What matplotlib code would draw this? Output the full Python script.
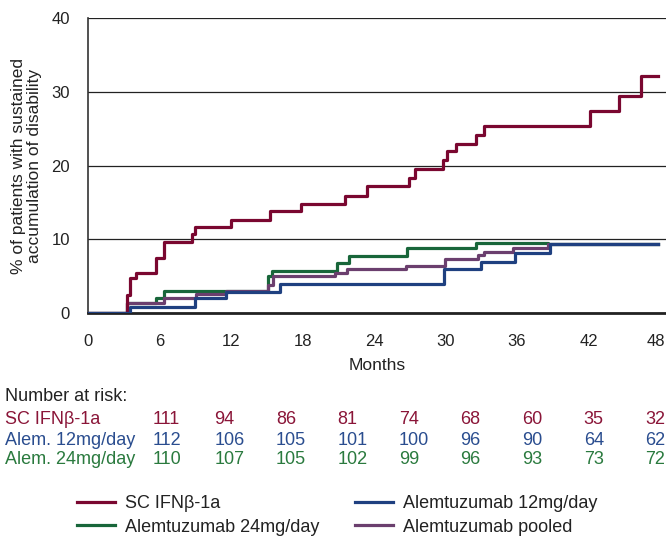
import numpy as np
import matplotlib.pyplot as plt
import matplotlib.transforms as mtransforms

plt.rcParams['font.family'] = ['Liberation Sans', 'DejaVu Sans']

# Kaplan-Meier style curves (months, % with sustained accumulation of disability)
ifn_t = [0, 3.25, 3.55, 4.0, 5.7, 6.35, 8.75, 9.0, 12.0, 15.3, 17.9, 21.6, 23.4,
         26.95, 27.4, 29.8, 30.15, 30.9, 32.55, 33.2, 42.1, 44.6, 46.4, 47.8]
ifn_y = [0, 2.5, 4.8, 5.5, 7.5, 9.6, 10.8, 11.7, 12.6, 13.8, 14.8, 15.9, 17.2,
         18.3, 19.5, 20.8, 22.0, 23.0, 24.2, 25.4, 27.4, 29.4, 32.1, 32.1]

alem24_t = [0, 3.3, 5.7, 6.35, 15.1, 15.4, 20.9, 21.9, 26.8, 32.55, 38.6, 47.8]
alem24_y = [0, 1.35, 2.1, 3.0, 5.0, 5.7, 6.8, 7.7, 8.8, 9.5, 9.4, 9.4]

pooled_t = [0, 3.3, 6.4, 9.1, 11.6, 15.1, 15.5, 20.7, 21.7, 26.7, 29.95, 32.7,
            33.2, 35.7, 38.6, 47.8]
pooled_y = [0, 1.35, 2.1, 2.6, 3.0, 3.8, 5.0, 5.5, 6.0, 6.4, 7.3, 7.9,
            8.35, 8.9, 9.4, 9.4]

alem12_t = [0, 3.5, 9.0, 11.6, 16.1, 29.9, 33.0, 35.8, 38.75, 47.8]
alem12_y = [0, 0.9, 2.1, 2.9, 4.0, 6.0, 7.0, 8.2, 9.35, 9.35]

months = [0, 6, 12, 18, 24, 30, 36, 42, 48]

# number at risk table
risk_names = ['SC IFN\u03b2-1a', 'Alem. 12mg/day', 'Alem. 24mg/day']
risk_ifn = [111, 94, 86, 81, 74, 68, 60, 35, 32]
risk_alem12 = [112, 106, 105, 101, 100, 96, 90, 64, 62]
risk_alem24 = [110, 107, 105, 102, 99, 96, 93, 73, 72]

red = '#7a0730'
blue = '#1f4080'
green = '#18663a'
purple = '#6b3f6e'

W, H = 666, 536
fig = plt.figure(figsize=(W / 100, H / 100), dpi=100)
ax = fig.add_axes([88 / W, 1 - 313.3 / H, 578 / W, 295.3 / H])

lw = 2.3
ax.step(alem24_t, alem24_y, where='post', color=green, lw=lw, label='Alemtuzumab 24mg/day', zorder=3)
ax.step(pooled_t, pooled_y, where='post', color=purple, lw=lw, label='Alemtuzumab pooled', zorder=4)
ax.step(ifn_t, ifn_y, where='post', color=red, lw=lw, label='SC IFN\u03b2-1a', zorder=5)
ax.step(alem12_t, alem12_y, where='post', color=blue, lw=lw, label='Alemtuzumab 12mg/day', zorder=6)

ax.set_xlim(0, 578 / 11.917)
ax.set_ylim(0, 40)
ax.set_xticks(months)
ax.set_yticks([0, 10, 20, 30, 40])
ax.grid(axis='y', color='#222222', lw=0.9)
ax.set_axisbelow(True)
ax.tick_params(length=0, labelsize=12, colors='#222222')
ax.tick_params(axis='x', pad=15)
ax.tick_params(axis='y', pad=13)

# last month label sits against the right edge
last = ax.get_xticklabels()[-1]
last.set_transform(last.get_transform() + mtransforms.ScaledTranslation(-4 / 100, 0, fig.dpi_scale_trans))

for s in ['top', 'right']:
    ax.spines[s].set_visible(False)
ax.spines['left'].set_color('#333333')
ax.spines['left'].set_linewidth(1.2)
ax.spines['bottom'].set_color('#222222')
ax.spines['bottom'].set_linewidth(2)

ax.set_xlabel('Months', fontsize=12.5, color='#222222', va='top')
ax.xaxis.set_label_coords(0.5, -0.153)
ax.set_ylabel('% of patients with sustained\naccumulation of disability',
              fontsize=12.5, color='#222222', linespacing=1.05)
ax.yaxis.set_label_coords(-0.08, 0.5)

# number at risk
fig.text(5 / W, 1 - 401 / H, 'Number at risk:', fontsize=13, color='#222222')
cols = np.linspace(152.7, 645.3, 9)
rows = [risk_ifn, risk_alem12, risk_alem24]
txt_colors = ['#8a1538', '#2a4d8f', '#2a7a3e']
baselines = [424.3, 445, 464.3]
for name, vals, c, b in zip(risk_names, rows, txt_colors, baselines):
    fig.text(5 / W, 1 - b / H, name, fontsize=13, color=c)
    for x, v in zip(cols, vals):
        fig.text(x / W, 1 - b / H, str(v), fontsize=13, color=c)

h, l = ax.get_legend_handles_labels()
order = [2, 0, 3, 1]
fig.legend([h[i] for i in order], [l[i] for i in order], ncol=2, loc='upper left',
           bbox_to_anchor=(76.7 / W, 1 - 495 / H), frameon=False, fontsize=13,
           handlelength=2.1, handletextpad=0.55, columnspacing=2.0,
           labelspacing=0.36, borderpad=0, borderaxespad=0, labelcolor='#222222')

fig.savefig('out.png', dpi=100)
